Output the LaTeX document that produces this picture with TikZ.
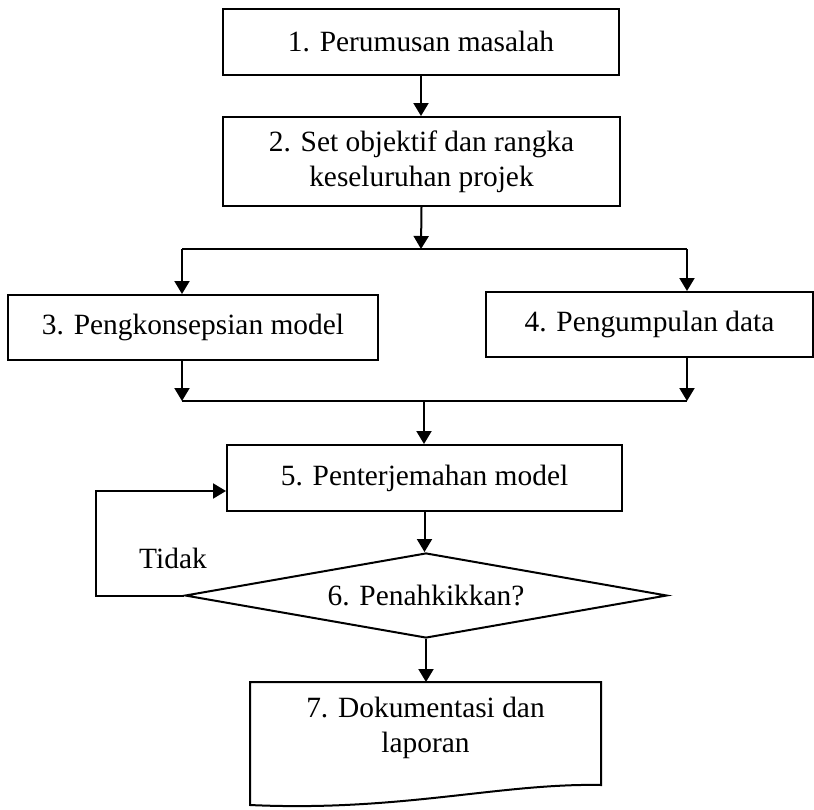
\documentclass[tikz,border=0pt]{standalone}
\usepackage{fontspec}
\setmainfont{Liberation Serif}
\usepackage{tikz}
\usetikzlibrary{shapes.geometric,arrows.meta,positioning}
\tikzstyle{garis} = [draw=black, line width=1pt]
\tikzstyle{panah} = [garis, -{Triangle[width=7.5pt,length=6.5pt]}]
\tikzstyle{teks} = [font=\fontsize{14.7}{17.5}\selectfont, align=center]
\tikzstyle{langkah} = [garis, teks, rectangle, inner sep=0pt]
\tikzstyle{keputusan} = [garis, teks, diamond, aspect=5.67, inner sep=0pt,
                         minimum width=241pt, minimum height=42.5pt]

\begin{document}
\begin{tikzpicture}[x=0.5pt, y=-0.5pt]%
  \useasboundingbox (0,0) rectangle (814,809);
  % langkah-langkah
  \node [langkah, minimum width=198pt, minimum height=33pt] (rumus) at (421,42)
    {1. Perumusan masalah};
  \node [langkah, minimum width=198.5pt, minimum height=44.5pt] (objektif) at (421.5,161.5)
    {2. Set objektif dan rangka\\keseluruhan projek};
  \node [langkah, minimum width=185pt, minimum height=32.5pt] (konsep) at (193,327.5)
    {3. Pengkonsepsian model};
  \node [langkah, minimum width=163.5pt, minimum height=32.5pt] (data) at (649.5,324.5)
    {4. Pengumpulan data};
  \node [langkah, minimum width=197.5pt, minimum height=33pt] (terjemah) at (424.5,478)
    {5. Penterjemahan model};
  \node [keputusan] (sahkan) at (426,595.5) {6. Penahkikkan?};
  \node [teks] (dokumen) at (425.5,728) {7. Dokumentasi dan\\laporan};
  \node [teks] (tidak) at (173,558) {Tidak};

  % bentuk dokumen
  \coordinate (dokkiri) at (250,682);
  \coordinate (dokkanan) at (601,682);
  \draw [garis] (dokkiri) -- (dokkanan) -- (601,785)
    .. controls (500,783) and (400,812) .. (250,805) -- cycle;

  % titik cabang
  \coordinate (cabang) at (421,249);
  \coordinate (cabangkiri) at (182,249);
  \coordinate (cabangkanan) at (687,249);
  \coordinate (gabung) at (424,401);
  \coordinate (gabungkiri) at (182,401);
  \coordinate (gabungkanan) at (687,401);

  % anak panah
  \draw [panah] (rumus.south) -- (rumus.south |- objektif.north);
  \draw [panah] (objektif.south) -- (cabang);
  \draw [garis] (cabangkiri) -- (cabangkanan);
  \draw [panah] (cabangkiri) -- (cabangkiri |- konsep.north);
  \draw [panah] (cabangkanan) -- (cabangkanan |- data.north);
  \draw [panah] (gabungkiri |- konsep.south) -- (gabungkiri);
  \draw [panah] (gabungkanan |- data.south) -- (gabungkanan);
  \draw [garis] (gabungkiri) -- (gabungkanan);
  \draw [panah] (gabung) -- (gabung |- terjemah.north);
  \draw [panah] (terjemah.south) -- (terjemah.south |- sahkan.north);
  \draw [panah] (sahkan.west) -- ++(-88,0) |- ([yshift=-6.5pt]terjemah.west);
  \draw [panah] (sahkan.south) -- (sahkan.south |- dokkiri);
\end{tikzpicture}
\end{document}
